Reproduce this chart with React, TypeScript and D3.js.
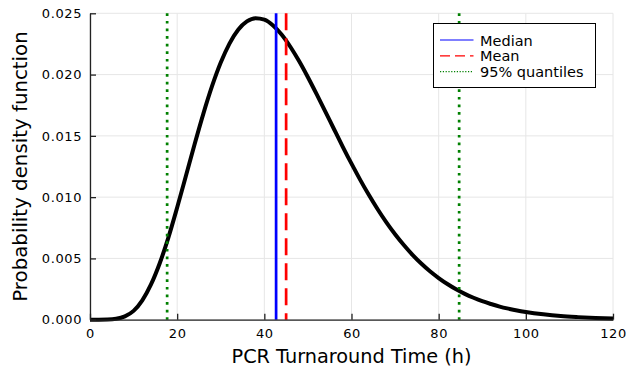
import React, { useEffect, useRef } from 'react'
import * as d3 from 'd3'

// PCR turnaround time density
const hours = [0, 2, 4, 6, 8, 10, 12, 14, 16, 18, 20, 22, 24, 26, 28, 30, 32, 34, 36, 38, 40,
  42, 44, 46, 48, 50, 52, 54, 56, 58, 60, 62, 64, 66, 68, 70, 72, 74, 76, 78, 80,
  82, 84, 86, 88, 90, 92, 94, 96, 98, 100, 104, 108, 112, 116, 120]
const density = [0, 0, 0.00001, 0.00007, 0.00027, 0.00072, 0.00158, 0.00288, 0.00461, 0.00672, 0.00915,
  0.01172, 0.01432, 0.0168, 0.01905, 0.02098, 0.02253, 0.02366, 0.02434, 0.0246, 0.02448,
  0.02401, 0.02325, 0.02225, 0.02108, 0.01978, 0.0184, 0.01698, 0.01554, 0.01411, 0.01273,
  0.01141, 0.01017, 0.00901, 0.00794, 0.00697, 0.00609, 0.00529, 0.00458, 0.00395, 0.0034,
  0.00291, 0.00248, 0.00211, 0.00179, 0.00151, 0.00128, 0.00107, 0.0009, 0.00075, 0.00063,
  0.00044, 0.0003, 0.00021, 0.00014, 0.00009]

const median = [42.7]
const mean = [45.0]
const quantiles = [17.7, 84.7]

const xTicks = [0, 20, 40, 60, 80, 100, 120]
const yTicks = [0, 0.005, 0.01, 0.015, 0.02, 0.025]
const legendItems = ['Median', 'Mean', '95% quantiles']

const FONT = '"DejaVu Sans", sans-serif'

export default function App() {
  const ref = useRef<SVGSVGElement | null>(null)

  useEffect(() => {
    if (!ref.current) return
    const svg = d3.select(ref.current)
    svg.selectAll('*').remove()

    const width = 626, height = 366
    const left = 90, right = 613, top = 13.3, bottom = 319.7

    svg.attr('width', width).attr('height', height).attr('viewBox', `0 0 ${width} ${height}`)
    svg.append('rect').attr('width', width).attr('height', height).attr('fill', '#fff')

    const x = d3.scaleLinear().domain([0, 120]).range([left, right])
    const y = d3.scaleLinear().domain([0, 0.025]).range([bottom, top])

    // grid
    const grid = svg.append('g').attr('stroke', '#e6e6e6').attr('stroke-width', 1)
    grid.selectAll('line.gx').data(xTicks).enter().append('line')
      .attr('x1', d => x(d)).attr('x2', d => x(d)).attr('y1', top).attr('y2', bottom)
    grid.selectAll('line.gy').data(yTicks).enter().append('line')
      .attr('x1', left).attr('x2', right).attr('y1', d => y(d)).attr('y2', d => y(d))

    // density curve
    const pts = hours.map((h, i) => [h, density[i]] as [number, number])
    const line = d3.line<[number, number]>().x(d => x(d[0])).y(d => y(d[1])).curve(d3.curveMonotoneX)
    svg.append('path').datum(pts).attr('d', line).attr('fill', 'none')
      .attr('stroke', '#000').attr('stroke-width', 4).attr('stroke-linejoin', 'round')

    const vline = (vals: number[], color: string, dash: string | null) => {
      svg.append('g').selectAll('line').data(vals).enter().append('line')
        .attr('x1', d => x(d)).attr('x2', d => x(d)).attr('y1', top).attr('y2', bottom)
        .attr('stroke', color).attr('stroke-width', 2.7)
        .attr('stroke-dasharray', dash)
    }
    vline(median, '#0000ff', null)
    vline(mean, '#ff0000', '17 8')
    vline(quantiles, '#008000', '2.7 4.9')

    // axes
    const ax = svg.append('g').attr('transform', `translate(0,${bottom})`)
      .call(d3.axisBottom(x).tickValues(xTicks).tickFormat(d3.format('d')).tickSizeInner(-6).tickSizeOuter(0).tickPadding(9))
    const ay = svg.append('g').attr('transform', `translate(${left},0)`)
      .call(d3.axisLeft(y).tickValues(yTicks).tickFormat(d3.format('.3f')).tickSizeInner(-6).tickSizeOuter(0).tickPadding(8))
    for (const a of [ax, ay]) {
      a.selectAll('path, line').attr('stroke', '#222').attr('stroke-width', 1.3)
      a.selectAll('text').attr('fill', '#000').style('font-family', FONT).style('font-size', '13px')
        .style('letter-spacing', '0.6px')
    }

    // axis titles
    svg.append('text').attr('x', (left + right) / 2).attr('y', 362.5).attr('text-anchor', 'middle')
      .style('font-family', FONT).style('font-size', '19.3px').text('PCR Turnaround Time (h)')
    svg.append('text').attr('transform', `translate(27.3,${(top + bottom) / 2}) rotate(-90)`)
      .attr('text-anchor', 'middle').style('font-family', FONT).style('font-size', '19.8px')
      .text('Probability density function')

    // legend
    const lg = svg.append('g')
    lg.append('rect').attr('x', 433.5).attr('y', 23.5).attr('width', 162).attr('height', 64)
      .attr('fill', '#fff').attr('stroke', '#000').attr('stroke-width', 1)
    const styles = [
      { color: '#0000ff', dash: null },
      { color: '#ff0000', dash: '10 5' },
      { color: '#008000', dash: '1.2 1.6' },
    ]
    legendItems.forEach((label, i) => {
      const cy = 40 + i * 15.8
      lg.append('line').attr('x1', 440).attr('x2', 473.5).attr('y1', cy).attr('y2', cy)
        .attr('stroke', styles[i].color).attr('stroke-width', 1.2).attr('stroke-dasharray', styles[i].dash)
      lg.append('text').attr('x', 480).attr('y', cy + 5.5)
        .style('font-family', FONT).style('font-size', '14.5px').text(label)
    })
  }, [])

  return <svg ref={ref} style={{ position: 'absolute', left: 0, top: 0, display: 'block' }} />
}
